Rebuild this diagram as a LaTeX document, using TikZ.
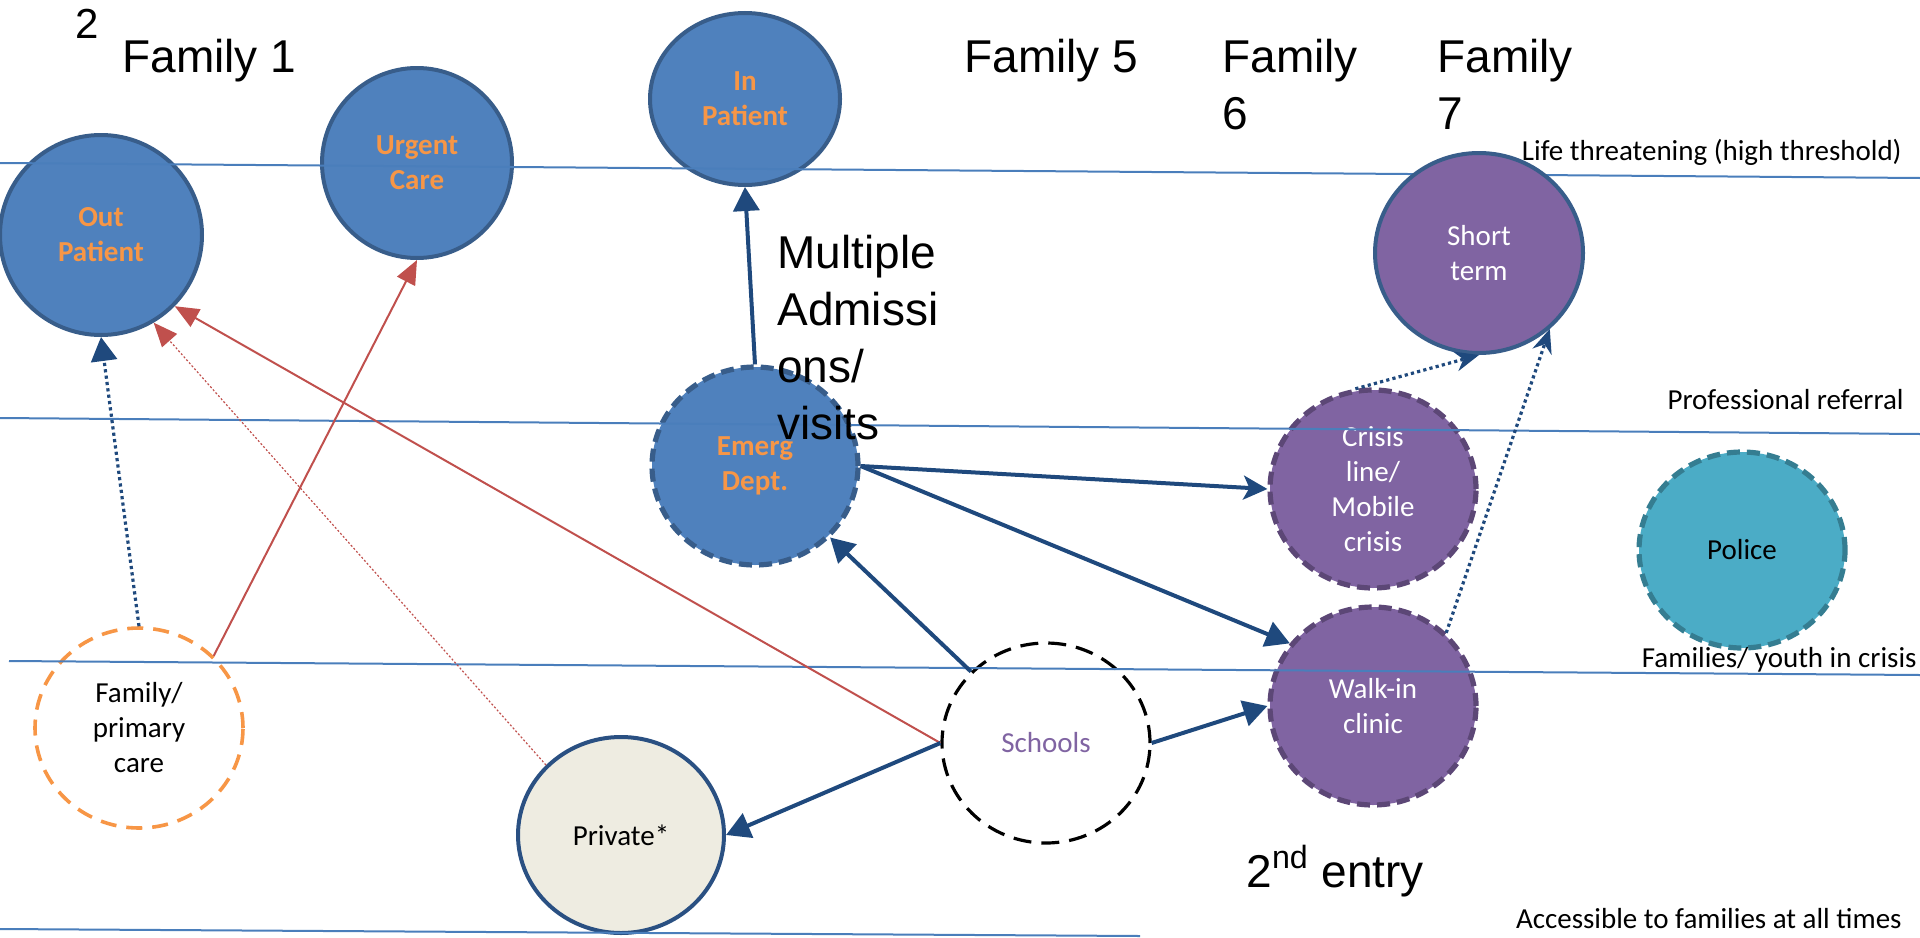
\documentclass[tikz,border=0pt]{standalone}
\usepackage{fontspec}
\setmainfont{Carlito}
\newfontfamily\arialfont{Liberation Sans}
\usepackage{xcolor}
\usetikzlibrary{shapes.geometric,arrows.meta}

\definecolor{svcblue}{HTML}{4F81BD}
\definecolor{svcedge}{HTML}{385D8A}
\definecolor{txtorange}{HTML}{F79646}
\definecolor{svcpurple}{HTML}{8064A2}
\definecolor{purpedge}{HTML}{5C4776}
\definecolor{policefill}{HTML}{4BACC6}
\definecolor{policeedge}{HTML}{357D91}
\definecolor{privfill}{HTML}{EEECE1}
\definecolor{privedge}{HTML}{2A5082}
\definecolor{arrblue}{HTML}{1F497D}
\definecolor{arrred}{HTML}{C0504D}
\definecolor{lvlblue}{HTML}{4A7EBB}

\begin{document}
\begin{tikzpicture}[x=0.5pt, y=-0.5pt,
  oval/.style={ellipse, inner sep=0pt, align=center, line width=2pt, font=\fontsize{14.5}{17.5}\selectfont},
  hosp/.style={oval, fill=svcblue, draw=svcedge, text=txtorange, font=\fontsize{14.5}{17.5}\selectfont\bfseries},
  dashedge/.style={line width=2.6pt, dash pattern=on 6.5pt off 3.5pt},
  respite/.style={oval, fill=svcpurple, draw=purpedge, dashedge, text=white},
  level/.style={draw=lvlblue, line width=1pt},
  lvltext/.style={anchor=base east, inner sep=0pt, font=\fontsize{14.5}{17.5}\selectfont},
  famtext/.style={inner sep=0pt, align=left, font=\arialfont\fontsize{23}{28.5}\selectfont},
  arr/.style={-{Triangle[length=12pt,width=13pt]}, draw=arrblue, line width=2pt},
  redarr/.style={-{Triangle[length=12pt,width=10pt]}, draw=arrred, line width=1pt},
  dotarr/.style={draw=arrblue, line width=1.6pt, dash pattern=on 1.6pt off 1.6pt}
]
\useasboundingbox (0,0) rectangle (1920,937);

% services
\node[hosp, minimum width=101pt, minimum height=100pt] (outp) at (101,235) {Out\\Patient};
\node[hosp, minimum width=95pt, minimum height=95pt] (urg) at (417,163) {Urgent\\Care};
\node[hosp, minimum width=95pt, minimum height=86pt] (inp) at (745,99) {In\\Patient};
\node[hosp, dashedge, minimum width=103pt, minimum height=99pt] (emerg) at (755,466) {Emerg\\Dept.};
\node[respite, minimum width=103pt, minimum height=99pt] (crisis) at (1373,489) {Crisis\\line/\\Mobile\\crisis};
\node[respite, minimum width=103pt, minimum height=99pt] (walkin) at (1373,706) {Walk-in\\clinic};
\node[oval, fill=policefill, draw=policeedge, dashedge, minimum width=103pt, minimum height=98pt] (police) at (1742,550) {Police};
\node[oval, fill=white, draw=txtorange, line width=1.8pt, dash pattern=on 8pt off 5pt, minimum width=104pt, minimum height=100pt] (fpc) at (139,728) {Family/\\primary\\care};
\node[oval, fill=privfill, draw=privedge, minimum width=103pt, minimum height=98pt] (priv) at (621,835) {Private*};
\node[oval, fill=white, draw=black, line width=1.6pt, dash pattern=on 9pt off 5pt, text=svcpurple, minimum width=104pt, minimum height=100pt] (school) at (1046,743) {Schools};

% threshold levels
\draw[level] (0,163) -- (1920,178);
\draw[level] (0,418) -- (1920,434);
\draw[level] (9,661) -- (1920,675);
\draw[level] (0,929) -- (1140,936);

\node[oval, fill=svcpurple, draw=svcedge, text=white, minimum width=104pt, minimum height=100pt] (shortt) at (1479,253) {Short\\term};

% referrals
\draw[dotarr, -{Triangle[length=12pt,width=13pt]}] (fpc.north) -- (outp.south);
\draw[redarr] (fpc.44) -- (urg.south);
\draw[redarr] (school.west) -- (outp.-44);
\draw[redarr, line width=0.6pt, dash pattern=on 1pt off 1pt] (priv.137) -- (outp.-59);
\draw[arr] (emerg.north) -- (inp.south);
\draw[arr, -{Stealth[length=12pt,width=12pt,inset=3pt]}] (emerg.east) -- (crisis.west);
\draw[arr] (emerg.east) -- (walkin.143);
\draw[arr] (school) -- (emerg);
\draw[arr] (school.west) -- (priv.east);
\draw[arr] (school.east) -- (walkin.west);
\draw[dotarr, -{Stealth[length=12pt,width=10pt]}] (crisis.100) -- (shortt.south);
\draw[dotarr, -{Stealth[length=12pt,width=10pt]}] (walkin.45) -- (shortt.-47);

% labels
\node[famtext, anchor=base west, font=\arialfont\fontsize{21}{25}\selectfont] (two) at (75,38) {2};
\node[famtext, anchor=base west] (fam1) at (122,72) {Family 1};
\node[famtext, anchor=base west] (fam5) at (964,72) {Family 5};
\node[famtext, anchor=north west] (fam6) at (1222,39) {Family\\6};
\node[famtext, anchor=north west] (fam7) at (1437,39) {Family\\7};
\node[famtext, anchor=north west] (multi) at (777,235) {Multiple\\Admissi\\ons/\\visits};
\node[famtext, anchor=base west] (entry) at (1246,887) {2\textsuperscript{nd} entry};

\node[lvltext] (lifet) at (1902,160) {Life threatening (high threshold)};
\node[lvltext] (profr) at (1904,409) {Professional referral};
\node[lvltext] (famyc) at (1917,667) {Families/ youth in crisis};
\node[lvltext] (acces) at (1902,928) {Accessible to families at all times};
\end{tikzpicture}
\end{document}
